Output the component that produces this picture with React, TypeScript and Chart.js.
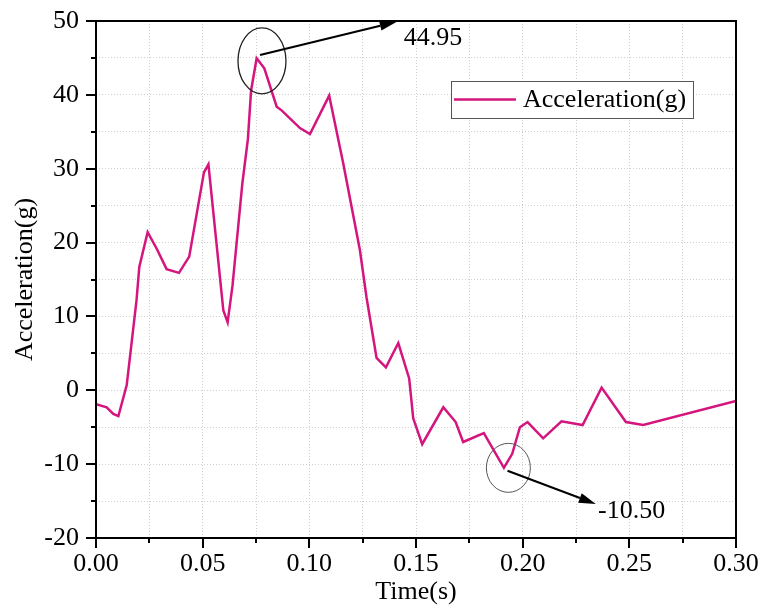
import React, { useEffect, useRef } from "react";
import { Chart, registerables } from "chart.js";

Chart.register(...registerables);

const timeS = [
  0, 0.005, 0.0081, 0.0105, 0.0144, 0.019, 0.0203, 0.0242, 0.0284, 0.0331,
  0.0389, 0.0437, 0.0506, 0.0527, 0.0597, 0.0617, 0.064, 0.0686, 0.0712,
  0.0727, 0.0753, 0.0789, 0.0847, 0.087, 0.0956, 0.1003, 0.1093, 0.1159,
  0.1237, 0.1268, 0.1315, 0.1359, 0.1417, 0.1468, 0.1487, 0.1529, 0.1628,
  0.1686, 0.1721, 0.1818, 0.1912, 0.1951, 0.1987, 0.2023, 0.2096, 0.2182,
  0.2281, 0.237, 0.2484, 0.2565, 0.3,
];
const accelG = [
  -1.9, -2.3, -3.2, -3.5, 0.7, 12.2, 16.7, 21.4, 19.2, 16.4,
  15.9, 18.1, 29.5, 30.6, 10.8, 9.2, 14.2, 28.0, 34.0,
  40.6, 44.95, 43.6, 38.4, 37.9, 35.5, 34.7, 39.9, 30.7,
  19.0, 12.6, 4.4, 3.1, 6.4, 1.6, -3.8, -7.3, -2.3,
  -4.3, -7.0, -5.8, -10.5, -8.6, -5.0, -4.3, -6.5, -4.2,
  -4.7, 0.36, -4.3, -4.7, -1.45,
];

const xTickLabels = ["0.00", "0.05", "0.10", "0.15", "0.20", "0.25", "0.30"];
const yTickLabels = ["-20", "-10", "0", "10", "20", "30", "40", "50"];

const seriesName = "Acceleration(g)";
const xTitle = "Time(s)";
const yTitle = "Acceleration(g)";

const peakCircle = [0.0778, 44.6];
const peakArrowStart = [0.0769, 45.4];
const peakArrowEnd = [0.141, 49.9];
const peakLabelAt = [0.1443, 47.7];
const peakLabel = "44.95";

const lowCircle = [0.1933, -10.5];
const lowArrowStart = [0.1929, -10.9];
const lowArrowEnd = [0.2343, -15.4];
const lowLabelAt = [0.2353, -16.3];
const lowLabel = "-10.50";

const LINE_COLOR = "#D5157E";
const FONT = "'Liberation Serif', 'Times New Roman', serif";

function drawArrow(ctx: CanvasRenderingContext2D, x1: number, y1: number, x2: number, y2: number) {
  const ang = Math.atan2(y2 - y1, x2 - x1);
  const headLen = 17;
  const headW = 5;
  const bx = x2 - headLen * Math.cos(ang);
  const by = y2 - headLen * Math.sin(ang);
  ctx.beginPath();
  ctx.moveTo(x1, y1);
  ctx.lineTo(bx, by);
  ctx.strokeStyle = "#000";
  ctx.lineWidth = 2;
  ctx.stroke();
  ctx.beginPath();
  ctx.moveTo(x2, y2);
  ctx.lineTo(bx + headW * Math.sin(ang), by - headW * Math.cos(ang));
  ctx.lineTo(bx - headW * Math.sin(ang), by + headW * Math.cos(ang));
  ctx.closePath();
  ctx.fillStyle = "#000";
  ctx.fill();
}

const decorPlugin = {
  id: "decor",
  afterDatasetsDraw(chart: any) {
    const { ctx, chartArea, scales } = chart;
    const xs = scales.x;
    const ys = scales.y;
    const px = (v: number) => xs.getPixelForValue(v);
    const py = (v: number) => ys.getPixelForValue(v);
    ctx.save();

    ctx.strokeStyle = "#000";
    ctx.lineWidth = 2;
    ctx.strokeRect(chartArea.left, chartArea.top, chartArea.right - chartArea.left, chartArea.bottom - chartArea.top);

    for (let v = -20; v <= 50; v += 5) {
      const y = Math.round(py(v));
      const len = v % 10 === 0 ? 10 : 5;
      ctx.beginPath();
      ctx.moveTo(chartArea.left, y);
      ctx.lineTo(chartArea.left - len, y);
      ctx.stroke();
    }
    for (let i = 0; i <= 12; i++) {
      const x = Math.round(px(i * 0.025));
      const len = i % 2 === 0 ? 10 : 5;
      ctx.beginPath();
      ctx.moveTo(x, chartArea.bottom);
      ctx.lineTo(x, chartArea.bottom + len);
      ctx.stroke();
    }

    ctx.lineWidth = 1.3;
    ctx.strokeStyle = "#222";
    ctx.beginPath();
    ctx.ellipse(px(peakCircle[0]), py(peakCircle[1]), 24, 33, 0, 0, Math.PI * 2);
    ctx.stroke();
    drawArrow(ctx, px(peakArrowStart[0]), py(peakArrowStart[1]), px(peakArrowEnd[0]), py(peakArrowEnd[1]));

    ctx.lineWidth = 1;
    ctx.strokeStyle = "#555";
    ctx.beginPath();
    ctx.ellipse(px(lowCircle[0]), py(lowCircle[1]), 22, 24.5, 0, 0, Math.PI * 2);
    ctx.stroke();
    drawArrow(ctx, px(lowArrowStart[0]), py(lowArrowStart[1]), px(lowArrowEnd[0]), py(lowArrowEnd[1]));

    ctx.fillStyle = "#000";
    ctx.font = `26px ${FONT}`;
    ctx.textAlign = "left";
    ctx.textBaseline = "middle";
    ctx.fillText(peakLabel, px(peakLabelAt[0]), py(peakLabelAt[1]));
    ctx.fillText(lowLabel, px(lowLabelAt[0]), py(lowLabelAt[1]));

    const lx = chartArea.right - 285;
    const ly = chartArea.top + 60;
    const lw = 242;
    const lh = 37;
    ctx.fillStyle = "#fff";
    ctx.fillRect(lx, ly, lw, lh);
    ctx.strokeStyle = "#555";
    ctx.lineWidth = 1;
    ctx.strokeRect(lx + 0.5, ly + 0.5, lw, lh);
    ctx.beginPath();
    ctx.moveTo(lx + 3, ly + 18.5);
    ctx.lineTo(lx + 65, ly + 18.5);
    ctx.strokeStyle = LINE_COLOR;
    ctx.lineWidth = 2.5;
    ctx.stroke();
    ctx.fillStyle = "#000";
    ctx.fillText(seriesName, lx + 72, ly + 19);

    ctx.restore();
  },
};

export default function App() {
  const ref = useRef<HTMLCanvasElement | null>(null);
  useEffect(() => {
    if (!ref.current) return;
    const chart = new Chart(ref.current, {
      type: "line",
      data: {
        datasets: [
          {
            label: seriesName,
            data: timeS.map((t, i) => ({ x: t, y: accelG[i] })),
            borderColor: LINE_COLOR,
            borderWidth: 2.5,
            pointRadius: 0,
            tension: 0,
            fill: false,
          },
        ],
      },
      options: {
        animation: false,
        responsive: false,
        events: [],
        layout: { padding: { top: 21, right: 25, bottom: 0, left: 0 } },
        plugins: { legend: { display: false }, tooltip: { enabled: false } },
        scales: {
          x: {
            type: "linear",
            min: 0,
            max: 0.3,
            afterFit: (s: any) => {
              s.height = 70;
              s.paddingLeft = 0;
              s.paddingRight = 0;
            },
            ticks: {
              stepSize: 0.025,
              autoSkip: false,
              maxRotation: 0,
              padding: 11,
              color: "#000",
              font: { family: FONT, size: 26 },
              callback: (v: any) => {
                const i = Math.round(Number(v) / 0.025);
                return i % 2 === 0 ? xTickLabels[i / 2] : "";
              },
            },
            grid: { color: "#cfcfcf", lineWidth: 1, drawTicks: false },
            border: { display: false, dash: [1, 2] },
            title: {
              display: true,
              text: xTitle,
              color: "#000",
              font: { family: FONT, size: 26 },
              padding: { top: 0, bottom: 0 },
            },
          },
          y: {
            min: -20,
            max: 50,
            afterFit: (s: any) => {
              s.width = 96;
              s.paddingTop = 0;
              s.paddingBottom = 0;
            },
            ticks: {
              stepSize: 5,
              autoSkip: false,
              padding: 17,
              color: "#000",
              font: { family: FONT, size: 26 },
              callback: (v: any) => {
                const n = Math.round(Number(v));
                return n % 10 === 0 ? yTickLabels[(n + 20) / 10] : "";
              },
            },
            grid: { color: "#cfcfcf", lineWidth: 1, drawTicks: false },
            border: { display: false, dash: [1, 2] },
            title: {
              display: true,
              text: yTitle,
              color: "#000",
              font: { family: FONT, size: 26 },
              padding: { top: 10, bottom: 0 },
            },
          },
        },
      },
      plugins: [decorPlugin],
    });
    return () => chart.destroy();
  }, []);
  return (
    <div style={{ position: "fixed", left: 0, top: 0, width: 761, height: 608, background: "#fff" }}>
      <canvas ref={ref} width={761} height={608} style={{ display: "block" }} />
    </div>
  );
}
